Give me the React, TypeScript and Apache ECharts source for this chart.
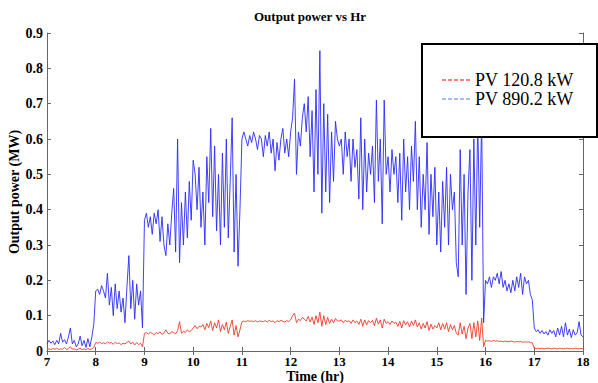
import React, { useEffect, useRef } from "react";
import * as echarts from "echarts";

const T_START = 7;
const T_STEP = 0.04;
const X_TICKS = { min: 7, max: 18, interval: 1 };
const Y_TICKS = { min: 0, max: 0.9, interval: 0.1 };
const SERIES_NAMES = ["PV 120.8 kW", "PV 890.2 kW"];

// PV 120.8 kW output (MW), one row per hour (7..17), 25 samples each, plus 18:00
const PV120 = [
  0.005,0.006,0.004,0.007,0.005,0.008,0.004,0.006,0.005,0.01,0.004,0.007,0.012,0.005,0.006,0.003,0.005,0.008,0.004,0.006,0.003,0.007,0.004,0.006,0.01,
  0.024,0.022,0.025,0.021,0.023,0.02,0.026,0.022,0.024,0.019,0.025,0.021,0.023,0.018,0.022,0.02,0.024,0.028,0.02,0.025,0.017,0.024,0.018,0.022,0.012,
  0.05,0.052,0.048,0.053,0.05,0.046,0.052,0.049,0.054,0.047,0.051,0.06,0.05,0.048,0.055,0.052,0.049,0.058,0.083,0.05,0.056,0.052,0.06,0.054,0.058,
  0.065,0.072,0.063,0.07,0.068,0.075,0.06,0.078,0.066,0.085,0.058,0.08,0.065,0.088,0.055,0.075,0.06,0.082,0.05,0.07,0.088,0.045,0.072,0.04,0.06,
  0.082,0.085,0.083,0.086,0.084,0.085,0.083,0.086,0.082,0.085,0.084,0.083,0.086,0.082,0.087,0.083,0.085,0.08,0.086,0.083,0.087,0.084,0.082,0.086,0.083,
  0.088,0.1,0.107,0.08,0.09,0.086,0.095,0.09,0.085,0.098,0.082,0.096,0.075,0.1,0.08,0.11,0.07,0.1,0.075,0.095,0.078,0.09,0.08,0.092,0.085,
  0.085,0.088,0.08,0.087,0.083,0.086,0.078,0.088,0.08,0.085,0.075,0.09,0.07,0.088,0.074,0.086,0.08,0.087,0.072,0.093,0.076,0.088,0.065,0.09,0.078,
  0.083,0.075,0.085,0.078,0.082,0.07,0.084,0.065,0.086,0.074,0.083,0.068,0.085,0.072,0.088,0.068,0.08,0.062,0.078,0.065,0.083,0.058,0.076,0.062,0.072,
  0.065,0.08,0.06,0.078,0.062,0.08,0.055,0.075,0.06,0.072,0.05,0.045,0.08,0.048,0.07,0.035,0.065,0.078,0.035,0.08,0.04,0.085,0.03,0.093,0.012,
  0.03,0.028,0.029,0.027,0.03,0.028,0.029,0.027,0.028,0.026,0.028,0.027,0.026,0.028,0.027,0.025,0.027,0.026,0.027,0.025,0.026,0.025,0.026,0.024,0.023,
  0.008,0.007,0.008,0.007,0.008,0.006,0.007,0.008,0.007,0.006,0.008,0.007,0.006,0.008,0.007,0.006,0.007,0.008,0.006,0.007,0.006,0.008,0.007,0.006,0.007,
  0.006,
];

// PV 890.2 kW output (MW)
const PV890 = [
  0.02,0.03,0.022,0.028,0.018,0.03,0.02,0.05,0.025,0.032,0.02,0.04,0.065,0.02,0.03,0.012,0.02,0.042,0.015,0.03,0.01,0.035,0.012,0.04,0.075,
  0.17,0.175,0.16,0.185,0.17,0.15,0.22,0.13,0.18,0.1,0.19,0.12,0.17,0.11,0.15,0.08,0.18,0.27,0.12,0.2,0.09,0.19,0.13,0.17,0.065,
  0.37,0.39,0.35,0.38,0.33,0.39,0.36,0.4,0.31,0.38,0.3,0.27,0.36,0.3,0.39,0.46,0.28,0.6,0.25,0.42,0.3,0.45,0.32,0.48,0.37,
  0.54,0.5,0.4,0.52,0.35,0.45,0.3,0.55,0.42,0.63,0.38,0.58,0.34,0.5,0.3,0.56,0.35,0.6,0.32,0.48,0.66,0.28,0.5,0.24,0.4,
  0.6,0.62,0.6,0.58,0.61,0.59,0.62,0.6,0.57,0.61,0.6,0.55,0.61,0.58,0.62,0.56,0.6,0.51,0.59,0.54,0.6,0.63,0.56,0.6,0.55,
  0.62,0.66,0.77,0.5,0.62,0.58,0.66,0.7,0.62,0.72,0.55,0.68,0.45,0.74,0.5,0.85,0.39,0.7,0.45,0.67,0.42,0.62,0.48,0.65,0.6,
  0.58,0.6,0.5,0.62,0.55,0.6,0.48,0.6,0.52,0.57,0.43,0.66,0.4,0.6,0.45,0.56,0.5,0.58,0.42,0.71,0.48,0.6,0.36,0.71,0.5,
  0.55,0.45,0.57,0.5,0.55,0.42,0.56,0.37,0.6,0.45,0.55,0.4,0.58,0.48,0.65,0.4,0.55,0.35,0.5,0.4,0.59,0.33,0.5,0.38,0.52,
  0.3,0.45,0.28,0.48,0.35,0.52,0.3,0.5,0.4,0.45,0.25,0.21,0.57,0.3,0.5,0.16,0.45,0.57,0.2,0.6,0.3,0.65,0.35,0.66,0.08,
  0.2,0.19,0.21,0.18,0.21,0.2,0.22,0.19,0.225,0.18,0.2,0.17,0.19,0.165,0.2,0.17,0.21,0.18,0.22,0.16,0.21,0.19,0.2,0.16,0.145,
  0.065,0.055,0.06,0.05,0.058,0.048,0.055,0.045,0.06,0.05,0.058,0.04,0.065,0.045,0.07,0.04,0.08,0.045,0.062,0.038,0.06,0.045,0.052,0.083,0.045,
  0.04,
];

const toPairs = (vals: number[]) =>
  vals.map((v, i) => [+(T_START + i * T_STEP).toFixed(2), v]);

const SERIF = "'Liberation Serif', 'Times New Roman', serif";
const AXIS_COLOR = "#666";
const DASH_ICON = "path://M0 0h4v1H0z M6 0h4v1H6z M12 0h4v1h-4z M18 0h4v1h-4z M24 0h4v1h-4z";

export default function App() {
  const ref = useRef<HTMLDivElement>(null);
  useEffect(() => {
    document.body.style.margin = "0";
    const chart = echarts.init(ref.current!, null, { renderer: "svg" });
    const labelStyle = { color: "#000", fontFamily: SERIF, fontWeight: "bold" as const, fontSize: 13 };
    const commonAxis = {
      axisLine: { show: true, lineStyle: { color: AXIS_COLOR, width: 1 } },
      axisTick: { show: true, inside: true, length: 4, lineStyle: { color: AXIS_COLOR } },
      splitLine: { show: false },
    };
    const legendText = { fontFamily: SERIF, fontSize: 18, color: "#000" };
    chart.setOption({
      animation: false,
      backgroundColor: "#fff",
      title: {
        text: "Output power vs Hr",
        left: 254,
        top: 10,
        padding: 0,
        textStyle: { fontFamily: SERIF, fontWeight: "bold", fontSize: 13, color: "#000" },
      },
      grid: { left: 47, right: 15, top: 33, bottom: 32, containLabel: false, outerBoundsMode: "none" },
      xAxis: [
        {
          type: "value",
          position: "bottom",
          ...X_TICKS,
          ...commonAxis,
          axisLabel: { ...labelStyle, margin: 4, lineHeight: 13 },
          name: "Time (hr)",
          nameLocation: "middle",
          nameGap: 18,
          nameMoveOverlap: false,
          nameTextStyle: { fontFamily: SERIF, fontWeight: "bold", fontSize: 14, color: "#000", lineHeight: 14 },
        },
        {
          type: "value",
          position: "top",
          ...X_TICKS,
          ...commonAxis,
          axisLabel: { show: false },
        },
      ],
      yAxis: [
        {
          type: "value",
          position: "left",
          ...Y_TICKS,
          ...commonAxis,
          axisLabel: { ...labelStyle, fontSize: 14, margin: 4 },
          name: "Output power (MW)",
          nameLocation: "middle",
          nameGap: 26,
          nameMoveOverlap: false,
          nameTextStyle: { fontFamily: SERIF, fontWeight: "bold", fontSize: 14, color: "#000" },
        },
        {
          type: "value",
          position: "right",
          ...Y_TICKS,
          ...commonAxis,
          axisLabel: { show: false },
        },
      ],
      legend: {
        orient: "vertical",
        left: 442,
        top: 71,
        padding: 0,
        itemGap: 1,
        itemWidth: 28,
        itemHeight: 1.2,
        z: 20,
        textStyle: legendText,
        data: [
          { name: SERIES_NAMES[0], icon: DASH_ICON, itemStyle: { color: "#ff0000" }, textStyle: legendText },
          { name: SERIES_NAMES[1], icon: DASH_ICON, itemStyle: { color: "#4a7fd6" }, textStyle: legendText },
        ],
      },
      graphic: [
        {
          type: "rect",
          z: 10,
          shape: { x: 422, y: 44, width: 175, height: 93 },
          style: { fill: "#fff", stroke: "#000", lineWidth: 2 },
        },
      ],
      series: [
        {
          name: SERIES_NAMES[0],
          type: "line",
          xAxisIndex: 0,
          yAxisIndex: 0,
          data: toPairs(PV120),
          symbol: "none",
          showSymbol: false,
          lineStyle: { color: "#f03a28", width: 0.9 },
          itemStyle: { color: "#f03a28" },
        },
        {
          name: SERIES_NAMES[1],
          type: "line",
          xAxisIndex: 0,
          yAxisIndex: 0,
          data: toPairs(PV890),
          symbol: "none",
          showSymbol: false,
          lineStyle: { color: "#2a2aff", width: 0.9 },
          itemStyle: { color: "#2a2aff" },
        },
      ],
    });
    return () => chart.dispose();
  }, []);
  return (
    <div
      ref={ref}
      style={{ position: "fixed", left: 0, top: 0, width: 598, height: 383, background: "#fff" }}
    />
  );
}
